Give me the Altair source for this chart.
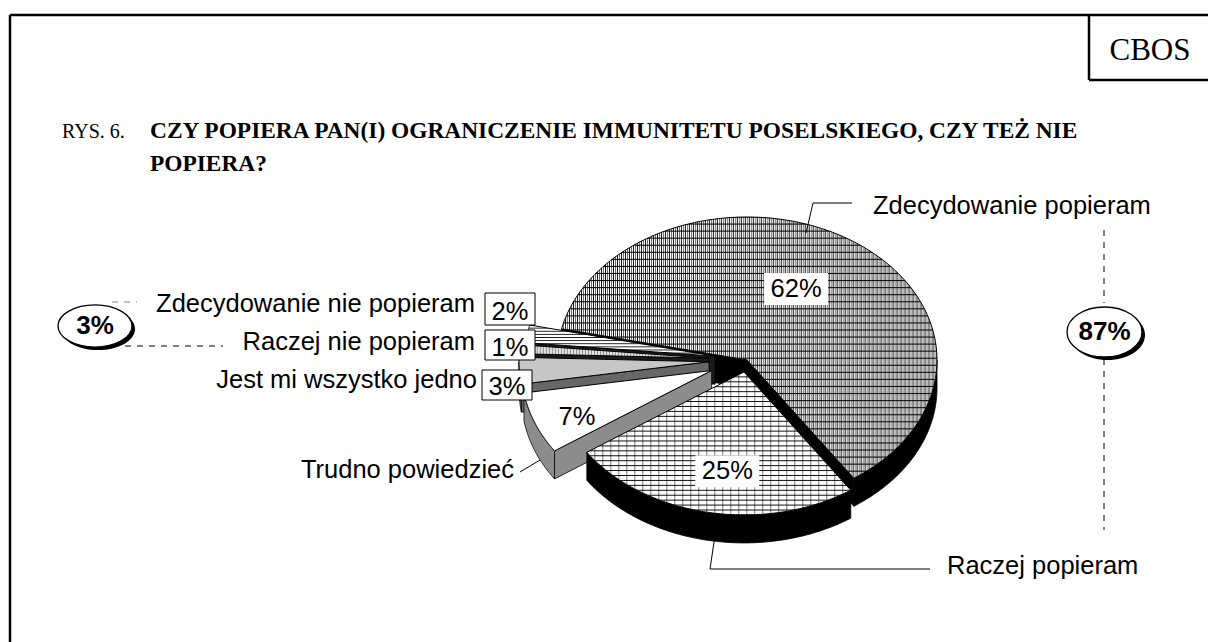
import altair as alt
import pandas as pd

# ---------------- data ----------------
categories = ["Zdecydowanie popieram", "Raczej popieram", "Trudno powiedzieć",
              "Jest mi wszystko jedno", "Raczej nie popieram", "Zdecydowanie nie popieram"]
values = [62, 25, 7, 3, 1, 2]
value_labels = ["62%", "25%", "7%", "3%", "1%", "2%"]
total_support = "87%"
total_against = "3%"
fig_number = "RYS. 6."
title_lines = ["CZY POPIERA PAN(I) OGRANICZENIE IMMUNITETU POSELSKIEGO, CZY TEŻ NIE", "POPIERA?"]
source_name = "CBOS"

# ---------------- style / layout ----------------
W, H = 1208, 642
CX, CY, RX, RY, DEPTH = 747, 360, 190, 143, 28
START_DEG = -77.4
N_ARC = 120
explode = [0.0, 0.085, 0.2, 0.2, 0.2, 0.17]
label_frac = [0.47, 0.46, 0.38, 0, 0, 0]
label_rad = [0.56, 0.70, 0.78, 0, 0, 0]
side_colors = ["#000000", "#000000", "#8c8c8c", "#676767", "#1a1a1a", "#1a1a1a"]
top_base = ["#ffffff", "#ffffff", "#ffffff", "#c6c6c6", "#e2e2e2", "#ffffff"]
side_order = [0, 5, 4, 3, 2, 1]
SANS = "Liberation Sans"
SERIF = "Liberation Serif"

XS = alt.Scale(domain=[0, W], nice=False, zero=False)
YS = alt.Scale(domain=[0, H], nice=False, zero=False, reverse=True)


def ink(a):
    return f"rgba(0,0,0,{a})"


def pattern(period, extent, profile, vertical):
    """Repeating smooth line texture as a linear gradient; profile = [(offset in period, alpha)]."""
    n = max(1, int(round(extent / period)))
    stops = []
    for j in range(n):
        for (o, a) in profile:
            stops.append(alt.GradientStop(offset=round((j + o) / n, 6), color=ink(a)))
    if vertical:
        return alt.LinearGradient(gradient="linear", stops=stops, x1=0, y1=0, x2=1, y2=0)
    return alt.LinearGradient(gradient="linear", stops=stops, x1=0, y1=0, x2=0, y2=1)


patterns = {
    0: [pattern(4, 375, [(0, 0.95), (0.24, 0), (0.28, 0), (0.5, 0.6), (0.72, 0), (0.76, 0), (1, 0.95)], True),
        pattern(7, 261, [(0, 0.95), (0.15, 0), (0.85, 0), (1, 0.95)], False)],
    1: [pattern(5, 143, [(0, 0.95), (0.2, 0), (0.8, 0), (1, 0.95)], False),
        pattern(8, 264, [(0, 0.55), (0.12, 0), (0.88, 0), (1, 0.55)], True)],
    4: [pattern(3, 190, [(0, 0.4), (0.3, 0), (0.7, 0), (1, 0.4)], True)],
    5: [pattern(3, 31, [(0, 0.9), (0.3, 0), (0.7, 0), (1, 0.9)], False)],
}

slices = pd.DataFrame({
    "idx": list(range(len(values))), "category": categories, "value": values,
    "label": value_labels, "explode": explode, "lfrac": label_frac, "lrad": label_rad,
})


def xy(xf, yf):
    return dict(x=alt.X(f"{xf}:Q", scale=XS, axis=None), y=alt.Y(f"{yf}:Q", scale=YS, axis=None))


def geo(i=None):
    c = alt.Chart(slices).transform_window(cum="sum(value)", sort=[alt.SortField("idx")], frame=[None, 0])
    c = c.transform_joinaggregate(total="sum(value)")
    c = c.transform_calculate(a0=f"PI*({START_DEG})/180 + 2*PI*(datum.cum - datum.value)/datum.total")
    c = c.transform_calculate(a1=f"PI*({START_DEG})/180 + 2*PI*datum.cum/datum.total")
    c = c.transform_calculate(am="(datum.a0 + datum.a1)/2")
    c = c.transform_calculate(vx=f"{CX} + {RX}*datum.explode*sin(datum.am)")
    c = c.transform_calculate(vy=f"{CY} - {RY}*datum.explode*cos(datum.am)")
    if i is not None:
        c = c.transform_filter(f"datum.idx == {i}")
    return c


def top_points(i):
    c = geo(i).transform_calculate(k=f"sequence(0, {N_ARC + 3})").transform_flatten(["k"])
    c = c.transform_calculate(t=f"clamp((datum.k - 1)/{N_ARC}, 0, 1)")
    c = c.transform_calculate(ang="datum.a0 + datum.t*(datum.a1 - datum.a0)")
    c = c.transform_calculate(onarc=f"datum.k >= 1 && datum.k <= {N_ARC + 1}")
    c = c.transform_calculate(px=f"datum.onarc ? datum.vx + {RX}*sin(datum.ang) : datum.vx")
    c = c.transform_calculate(py=f"datum.onarc ? datum.vy - {RY}*cos(datum.ang) : datum.vy")
    return c


def band_points(i):
    M = 60
    c = geo(i).transform_calculate(lo="max(datum.a0, PI/2)", hi="min(datum.a1, 3*PI/2)")
    c = c.transform_filter("datum.lo < datum.hi")
    c = c.transform_calculate(k=f"sequence(0, {2 * M + 2})").transform_flatten(["k"])
    c = c.transform_calculate(t=f"datum.k <= {M} ? datum.k/{M} : ({2 * M + 1} - datum.k)/{M}")
    c = c.transform_calculate(ang="datum.lo + datum.t*(datum.hi - datum.lo)")
    c = c.transform_calculate(px=f"datum.vx + {RX}*sin(datum.ang)")
    c = c.transform_calculate(py=f"datum.vy - {RY}*cos(datum.ang) + (datum.k > {M} ? {DEPTH} : 0)")
    return c


def face_points(i, which):
    cond = "sin(datum.a0) < 0" if which == "a0" else "sin(datum.a1) > 0"
    c = geo(i).transform_filter(cond)
    c = c.transform_calculate(k="sequence(0, 4)").transform_flatten(["k"])
    c = c.transform_calculate(o="datum.k == 1 || datum.k == 2")
    c = c.transform_calculate(px=f"datum.o ? datum.vx + {RX}*sin(datum.{which}) : datum.vx")
    c = c.transform_calculate(
        py=f"(datum.o ? datum.vy - {RY}*cos(datum.{which}) : datum.vy) + (datum.k >= 2 ? {DEPTH} : 0)")
    return c


def poly(chart, fill, stroke="transparent", sw=0.0):
    return chart.mark_line(fill=fill, stroke=stroke, strokeWidth=sw, interpolate="linear-closed",
                           strokeJoin="round").encode(order=alt.Order("k:Q"), **xy("px", "py"))


def rules(segs, **style):
    d = pd.DataFrame(segs, columns=["x1", "y1", "x2", "y2"])
    return alt.Chart(d).mark_rule(**style).encode(x2="x2:Q", y2="y2:Q", **xy("x1", "y1"))


def texts(rows, **style):
    d = pd.DataFrame(rows, columns=["x", "y", "text"])
    style.setdefault("baseline", "alphabetic")
    return alt.Chart(d).mark_text(**style).encode(text="text:N", **xy("x", "y"))


def rects(rows, **style):
    d = pd.DataFrame(rows, columns=["x1", "y1", "x2", "y2"])
    return alt.Chart(d).mark_rect(**style).encode(x2="x2:Q", y2="y2:Q", **xy("x1", "y1"))


layers = []

# frame and title
layers.append(rules([(10, 15, W, 15), (10, 15, 10, H), (1089, 15, 1089, 80), (1089, 80, W, 80)],
                    color="black", strokeWidth=2.5))
layers.append(texts([(1150, 60, source_name)], font=SERIF, fontSize=31, align="center", color="black"))
layers.append(texts([(62, 138, fig_number)], font=SERIF, fontSize=20, align="left", color="black"))
layers.append(texts([(150, 138, title_lines[0]), (150, 171, title_lines[1])], font=SERIF, fontSize=23.4,
                    fontWeight="bold", align="left", color="black"))

# pie sides (back to front)
for i in side_order:
    layers.append(poly(face_points(i, "a0"), side_colors[i], "black", 0.8))
    layers.append(poly(face_points(i, "a1"), side_colors[i], "black", 0.8))
    layers.append(poly(band_points(i), side_colors[i], "black", 0.8))

# pie tops
for i in range(len(values)):
    layers.append(poly(top_points(i), top_base[i]))
    for g in patterns.get(i, []):
        layers.append(poly(top_points(i), g))
    layers.append(poly(top_points(i), "transparent", "black", 1.0))

# leader lines
layers.append(rules([(852, 203, 813, 203), (813, 203, 806, 233), (930, 569, 710, 569),
                     (710, 569, 717, 522), (520, 472, 540, 460)], color="black", strokeWidth=1))
layers.append(rules([(125, 346, 223, 346), (1104, 230, 1104, 303), (1104, 359, 1104, 530)],
                    color="black", strokeWidth=1, strokeDash=[6, 6]))
layers.append(rules([(112, 302, 137, 302)], color="#888888", strokeWidth=1, strokeDash=[6, 6]))

# inside value labels (placed from slice geometry)
lab = geo().transform_filter("datum.lrad > 0")
lab = lab.transform_calculate(la="datum.a0 + datum.lfrac*(datum.a1 - datum.a0)")
lab = lab.transform_calculate(lx=f"datum.vx + datum.lrad*{RX}*sin(datum.la)")
lab = lab.transform_calculate(ly=f"datum.vy - datum.lrad*{RY}*cos(datum.la)")
boxes = lab.transform_filter("datum.idx < 2").transform_calculate(
    bx1="datum.lx - 32", bx2="datum.lx + 32", by1="datum.ly - 16", by2="datum.ly + 16")
layers.append(boxes.mark_rect(fill="white", strokeWidth=0).encode(x2="bx2:Q", y2="by2:Q", **xy("bx1", "by1")))
layers.append(lab.mark_text(font=SANS, fontSize=25.5, align="center", baseline="middle", color="black")
              .encode(text="label:N", **xy("lx", "ly")))

# boxed labels of the small slices
layers.append(rects([(485, 293, 535, 325), (485, 330, 535, 360), (482, 370, 532, 400)],
                    fill="white", stroke="black", strokeWidth=1))
layers.append(texts([(510, 320, value_labels[5]), (510, 356, value_labels[4]), (507, 395, value_labels[3])],
                    font=SANS, fontSize=25.5, align="center", color="black"))

# category labels
layers.append(texts([(873, 214, categories[0]), (947, 574, categories[1])],
                    font=SANS, fontSize=25.5, align="left", color="black"))
layers.append(texts([(514, 478, categories[2]), (477, 388, categories[3]), (475, 350, categories[4]),
                     (475, 312, categories[5])], font=SANS, fontSize=25.5, align="right", color="black"))

# group ellipses
ell3 = "M-1,0A1,0.57,0,1,1,1,0A1,0.57,0,1,1,-1,0Z"
ell87 = "M-1,0A1,0.667,0,1,1,1,0A1,0.667,0,1,1,-1,0Z"
for (cx, cy, shape, size, txt) in [(95, 326, ell3, 5476, total_against), (1104.5, 332, ell87, 5625, total_support)]:
    d_sh = pd.DataFrame({"x": [cx + 3], "y": [cy + 3]})
    d_e = pd.DataFrame({"x": [cx], "y": [cy], "text": [txt]})
    layers.append(alt.Chart(d_sh).mark_point(shape=shape, size=size, filled=True, fill="black",
                                             strokeWidth=0, opacity=1).encode(**xy("x", "y")))
    layers.append(alt.Chart(d_e).mark_point(shape=shape, size=size, filled=True, fill="white",
                                            stroke="black", strokeWidth=1.3, opacity=1).encode(**xy("x", "y")))
    layers.append(alt.Chart(d_e).mark_text(font=SANS, fontSize=26, fontWeight="bold", align="center",
                                           baseline="middle", color="black").encode(text="text:N", **xy("x", "y")))

chart = alt.layer(*layers).properties(
    width=W, height=H, padding=0, autosize=alt.AutoSizeParams(type="none")
).configure_view(stroke=None)

chart.save("out.html", embed_options={"renderer": "svg", "actions": False})
